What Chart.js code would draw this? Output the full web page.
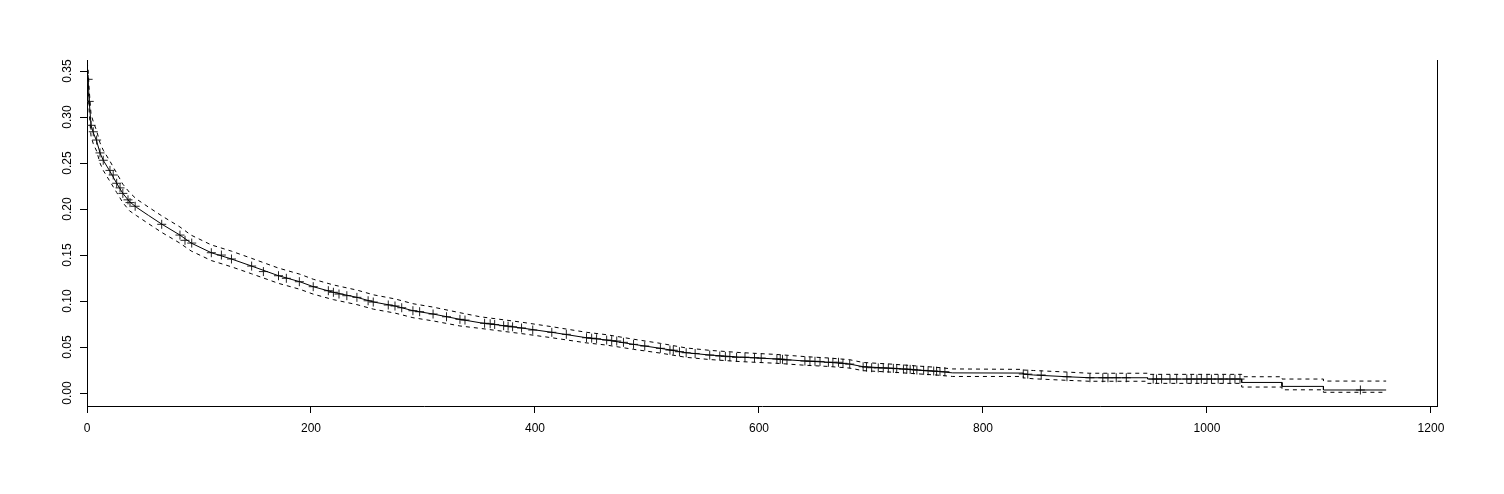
<!DOCTYPE html>
<html>
<head>
<meta charset="utf-8">
<script src="https://cdn.jsdelivr.net/npm/chart.js@4"></script>
<style>
  html, body { margin: 0; padding: 0; background: #fff; }
  #wrap { width: 1504px; height: 494px; }
</style>
</head>
<body>
<div id="wrap"><canvas id="myChart" width="1504" height="494"></canvas></div>
<script>
// survival curve knots (time, estimate, lower, upper)
const temps = [0, 1, 2, 3.6, 5.6, 8.6, 11.6, 14.5, 20.5, 26.5, 32, 38, 44, 55, 67, 83, 93, 111, 129, 147,
  171, 190, 202, 220, 241, 256, 275, 291, 309, 333, 351, 372, 388, 415, 446, 464, 488, 512, 535, 556,
  583, 616, 641, 662, 681, 693, 720, 741, 758, 773, 836, 836, 845, 875, 895, 947, 947, 1031, 1031,
  1067, 1067, 1104, 1104, 1160];
const survie = [.352, .341, .317, .291, .283, .274, .261, .253, .241, .228, .217, .208, .202, .193, .1834, .1717, .163, .1525, .1457, .138,
  .1275, .121, .1156, .1095, .104, .0989, .0946, .0895, .0859, .0801, .0764, .0732, .0707, .066, .0601, .0576, .0529, .0486, .0438, .0413,
  .039, .037, .0348, .0334, .0315, .0286, .0268, .025, .0236, .0219, .0217, .0205, .0196, .0177, .0166, .0166, .0152, .0152, .0115,
  .0115, .0072, .0072, .0033, .0033];
const basse = [.344, .330, .305, .279, .271, .263, .250, .242, .230, .218, .207, .198, .193, .184, .1744, .1629, .1544, .144, .1372, .1296,
  .1192, .1128, .1075, .1015, .0961, .0911, .0869, .0819, .0784, .0729, .0703, .067, .0646, .0601, .0545, .0521, .0475, .0434, .0388, .0364,
  .0342, .0323, .0302, .0289, .0271, .0243, .0226, .0209, .0196, .018, .018, .0165, .0155, .0138, .0128, .0128, .0105, .0105, .0065,
  .0065, .0035, .0035, .0008, .0008];
const haute = [.360, .352, .329, .303, .295, .285, .272, .264, .252, .239, .227, .218, .211, .202, .1924, .1805, .1716, .161, .1542, .1464,
  .1358, .1292, .1237, .1175, .1119, .1067, .1023, .0971, .0934, .0873, .0829, .0796, .077, .0721, .066, .0634, .0585, .054, .049, .0464,
  .044, .0419, .0396, .0381, .0362, .0332, .0313, .0294, .028, .0262, .0257, .0250, .0245, .0228, .0215, .0215, .0203, .0203, .0177,
  .0177, .0152, .0152, .013, .013];

// censored observations (time, estimate)
const censureT = [1, 2, 3.6, 5.6, 8.6, 11.6, 14.5, 20.5, 23.4, 26.5, 29.5, 32, 36.6, 38.4, 43, 66.7, 83, 87.5, 93.5, 111, 120, 129,
  147, 157.5, 171, 178, 189.6, 202, 215.5, 220, 225, 232, 241, 251, 255.6, 269, 275, 281, 291, 297, 309, 321, 333, 337.5,
  355, 360, 364, 372, 376, 380, 388, 398, 415, 428, 446, 450.6, 455, 464, 468.5, 473, 479, 488, 498, 512, 520.5, 523.5, 529, 535, 543, 556, 565, 570, 574, 580,
  587.5, 596, 602, 616, 619, 621, 625, 641, 645.5, 650, 654.5, 662, 666, 671, 675, 681, 693, 696, 700.6, 706.5, 711, 715.5, 720, 723, 729, 732, 735, 738, 741, 747, 751, 756, 758.6, 761.6, 766,
  836, 840, 852, 875, 895.5, 907, 911.6, 919, 928, 952, 955, 959.5, 967, 973, 982, 986, 991, 995, 1000, 1004, 1010, 1014.6, 1020.5, 1025, 1029.5, 1137];
const censureS = [.341, .317, .291, .284, .275, .261, .253, .242, .237, .228, .223, .217, .21, .207, .203, .1834, .1717, .166, .163, .1525, .15, .1457,
  .138, .132, .1275, .1247, .121, .1156, .1112, .1095, .1076, .1058, .104, .1003, .0989, .0957, .0946, .0927, .0895, .0884, .0859, .0829, .0801, .0793,
  .0758, .0753, .0745, .0732, .0727, .072, .0707, .0685, .066, .0638, .0601, .0596, .059, .0576, .057, .0565, .0551, .0529, .0511, .0486, .0467, .0465, .0449, .0438, .043, .0413, .0402, .0398, .0395, .0388,
  .039, .0384, .038, .037, .0368, .0366, .0359, .0348, .0346, .0345, .0343, .0334, .0334, .0334, .0323, .0315, .0286, .0282, .0275, .0273, .0272, .027, .0268, .0265, .0261, .026, .0257, .0254, .025, .0246, .0242, .0239, .0236, .0234, .0232,
  .0207, .0205, .0196, .0177, .0166, .0166, .0166, .0166, .0166, .0152, .0152, .0152, .0152, .0152, .0152, .0152, .0152, .0152, .0152, .0152, .0152, .0152, .0152, .0152, .0152, .0033];

const ticksX = [0, 200, 400, 600, 800, 1000, 1200];
const ticksY = [0, 0.05, 0.10, 0.15, 0.20, 0.25, 0.30, 0.35];

const police = { family: '"Liberation Sans", Arial, sans-serif', size: 12 };

function points(xs, ys) {
    return xs.map((x, i) => ({ x: x, y: ys[i] }));
}

// boîte en U : trait vertical à droite
const boiteDroite = {
    id: 'boiteDroite',
    afterDraw(chart) {
        const { ctx, chartArea } = chart;
        ctx.save();
        ctx.strokeStyle = '#000';
        ctx.lineWidth = 1;
        ctx.beginPath();
        ctx.moveTo(Math.round(chartArea.right) + 0.5, chartArea.top);
        ctx.lineTo(Math.round(chartArea.right) + 0.5, chartArea.bottom + 0.5);
        ctx.stroke();
        ctx.restore();
    }
};

const graph = document.getElementById('myChart');
new Chart(graph, {
    type: 'line',
    data: {
        datasets: [
            {
                data: points(temps, survie),
                borderColor: '#000',
                borderWidth: 1,
                pointRadius: 0,
                fill: false
            },
            {
                data: points(temps, haute),
                borderColor: '#000',
                borderWidth: 1,
                borderDash: [4, 4],
                pointRadius: 0,
                fill: false
            },
            {
                data: points(temps, basse),
                borderColor: '#000',
                borderWidth: 1,
                borderDash: [4, 4],
                pointRadius: 0,
                fill: false
            },
            {
                data: points(censureT, censureS),
                showLine: false,
                pointStyle: 'cross',
                pointRadius: 4.5,
                borderColor: '#222',
                borderWidth: 1
            }
        ]
    },
    options: {
        responsive: false,
        animation: false,
        layout: { padding: { top: 60, right: 67, left: 0, bottom: 0 } },
        plugins: { legend: { display: false }, tooltip: { enabled: false } },
        scales: {
            x: {
                type: 'linear',
                min: 0,
                max: 1205.4,
                afterBuildTicks: s => { s.ticks = ticksX.map(v => ({ value: v })); },
                afterFit: s => { s.height = 88; },
                ticks: { color: '#000', font: police, padding: 8, maxRotation: 0, callback: v => String(v) },
                grid: { drawOnChartArea: false, drawTicks: true, tickLength: 7, color: '#000' },
                border: { display: true, color: '#000', width: 1 }
            },
            y: {
                min: -0.0141,
                max: 0.362,
                afterBuildTicks: s => { s.ticks = ticksY.map(v => ({ value: v })); },
                afterFit: s => { s.width = 87; },
                ticks: { color: '#000', font: police, padding: 1, minRotation: 90, maxRotation: 90, crossAlign: 'center', callback: v => v.toFixed(2) },
                grid: { drawOnChartArea: false, drawTicks: true, tickLength: 7, color: '#000' },
                border: { display: true, color: '#000', width: 1 }
            }
        }
    },
    plugins: [boiteDroite]
});
</script>
</body>
</html>
